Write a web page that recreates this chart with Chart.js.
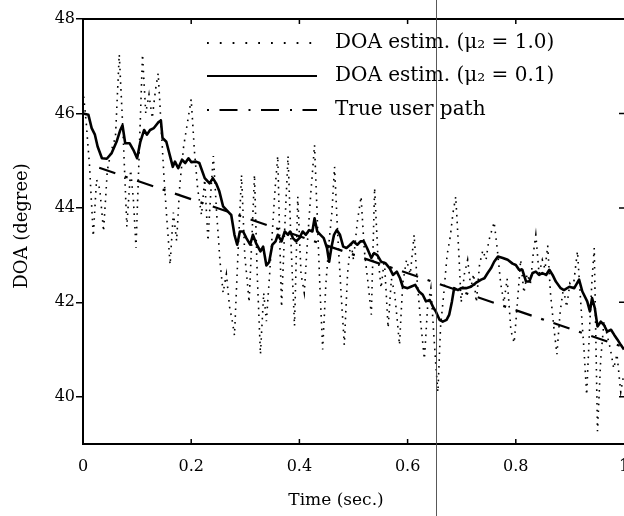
<!DOCTYPE html>
<html><head><meta charset="utf-8">
<script src="https://cdn.jsdelivr.net/npm/chart.js@4"></script>
<style>html,body{margin:0;padding:0;background:#fff}#wrap{width:624px;height:516px;position:relative}</style>
</head><body><div id="wrap"><canvas id="c" width="624" height="516"></canvas></div>
<script>
const seriesLabels = ['DOA estim. (\u03BC\u2082 = 1.0)', 'DOA estim. (\u03BC\u2082 = 0.1)', 'True user path'];
const xTitle = 'Time (sec.)';
const yTitle = 'DOA (degree)';
const xTickValues = [0, 0.2, 0.4, 0.6, 0.8, 1];
const xTickLabels = ['0', '0.2', '0.4', '0.6', '0.8', '1'];
const yTickValues = [40, 42, 44, 46, 48];
const yTickLabels = ['40', '42', '44', '46', '48'];
const scanLineT = 0.652;

const timeNoisy = [0.000,0.006,0.012,0.019,0.025,0.031,0.038,0.045,0.052,0.060,0.067,0.074,0.081,0.088,0.093,0.098,0.104,0.110,0.116,0.122,0.128,0.134,0.139,0.145,0.150,0.156,0.161,0.167,0.173,0.179,0.186,0.193,0.200,0.206,0.212,0.219,0.225,0.231,0.236,0.241,0.247,0.253,0.259,0.265,0.271,0.276,0.280,0.286,0.293,0.299,0.304,0.307,0.312,0.317,0.322,0.328,0.334,0.339,0.345,0.350,0.355,0.360,0.364,0.367,0.373,0.379,0.385,0.391,0.397,0.403,0.409,0.415,0.421,0.428,0.433,0.438,0.443,0.449,0.455,0.460,0.465,0.471,0.477,0.483,0.489,0.495,0.500,0.507,0.514,0.520,0.527,0.533,0.539,0.545,0.551,0.557,0.564,0.570,0.576,0.581,0.585,0.591,0.598,0.605,0.612,0.618,0.624,0.631,0.637,0.643,0.648,0.652,0.656,0.661,0.667,0.673,0.679,0.684,0.689,0.694,0.699,0.705,0.711,0.717,0.722,0.727,0.733,0.739,0.745,0.750,0.755,0.760,0.766,0.772,0.778,0.784,0.791,0.797,0.803,0.809,0.815,0.821,0.827,0.832,0.837,0.843,0.849,0.854,0.859,0.864,0.870,0.876,0.882,0.888,0.894,0.900,0.906,0.911,0.914,0.920,0.926,0.931,0.937,0.941,0.945,0.948,0.951,0.957,0.963,0.969,0.975,0.981,0.987,0.994,1.000];
const doaNoisy = [46.5,45.8,44.9,43.4,44.6,44.4,43.5,44.8,45.2,45.5,47.25,45.6,43.6,44.8,44.2,43.15,45.2,47.25,46.0,46.4,45.9,46.5,46.85,45.6,44.6,43.6,42.8,43.9,43.3,44.5,45.3,45.8,46.3,45.2,44.4,43.85,44.6,43.3,44.3,45.1,43.9,42.9,42.2,42.6,41.9,41.6,41.3,42.9,44.7,43.0,42.4,42.0,43.3,44.7,42.6,40.9,42.2,41.6,42.6,43.5,44.4,45.1,43.2,41.9,43.6,45.1,43.1,41.5,44.24,42.6,42.2,43.3,44.3,45.33,43.8,42.3,41.0,42.4,43.3,43.9,44.87,43.4,42.2,41.1,42.6,43.3,42.9,43.7,44.24,43.1,42.4,41.74,44.42,43.0,42.3,42.9,41.46,42.5,42.2,41.6,41.1,42.4,42.9,42.6,43.43,42.4,41.6,40.8,41.9,42.3,41.4,40.7,40.1,41.5,42.2,43.0,43.4,43.9,44.24,43.2,42.0,42.6,42.9,42.3,42.6,42.0,42.8,43.1,42.9,43.3,43.5,43.7,43.1,42.4,42.0,42.5,41.4,41.14,42.0,42.9,42.2,42.6,42.4,43.0,43.43,42.6,42.9,42.7,43.2,42.2,41.5,40.9,41.8,42.3,41.9,42.4,42.3,42.8,43.08,42.0,41.0,40.04,41.6,42.5,43.15,41.2,39.27,40.8,41.6,41.3,41.0,40.6,40.9,40.1,40.5];

const timeSmooth = [0.000,0.010,0.016,0.022,0.027,0.035,0.044,0.053,0.062,0.069,0.073,0.078,0.086,0.093,0.100,0.106,0.113,0.118,0.124,0.131,0.139,0.144,0.147,0.154,0.161,0.166,0.170,0.176,0.183,0.189,0.195,0.200,0.209,0.215,0.225,0.234,0.240,0.246,0.252,0.259,0.268,0.274,0.280,0.285,0.290,0.296,0.302,0.309,0.314,0.320,0.328,0.333,0.339,0.344,0.350,0.356,0.360,0.367,0.373,0.379,0.383,0.388,0.394,0.400,0.406,0.412,0.418,0.424,0.428,0.433,0.439,0.445,0.451,0.455,0.459,0.464,0.469,0.475,0.481,0.487,0.494,0.500,0.507,0.513,0.519,0.525,0.533,0.538,0.544,0.551,0.559,0.567,0.573,0.580,0.586,0.591,0.600,0.606,0.614,0.621,0.628,0.634,0.641,0.648,0.652,0.659,0.665,0.672,0.677,0.682,0.686,0.693,0.699,0.708,0.717,0.726,0.736,0.742,0.748,0.754,0.760,0.767,0.776,0.785,0.794,0.800,0.806,0.812,0.819,0.825,0.831,0.837,0.843,0.849,0.856,0.862,0.868,0.874,0.883,0.889,0.899,0.908,0.917,0.923,0.932,0.937,0.941,0.946,0.951,0.957,0.963,0.969,0.976,0.982,0.988,0.994,1.000];
const doaSmooth = [46.00,45.97,45.69,45.55,45.30,45.05,45.04,45.16,45.40,45.65,45.75,45.37,45.37,45.23,45.05,45.40,45.65,45.55,45.65,45.69,45.81,45.85,45.48,45.40,45.09,44.87,44.98,44.84,45.02,44.95,45.05,44.97,44.98,44.95,44.63,44.52,44.63,44.52,44.35,44.03,43.92,43.85,43.43,43.22,43.50,43.50,43.36,43.22,43.43,43.25,43.08,43.18,42.78,42.85,43.22,43.29,43.43,43.29,43.50,43.43,43.50,43.36,43.29,43.36,43.50,43.43,43.53,43.50,43.78,43.50,43.43,43.36,43.15,42.86,43.15,43.43,43.53,43.43,43.18,43.15,43.22,43.29,43.22,43.29,43.29,43.15,42.94,43.04,43.00,42.86,42.83,42.72,42.58,42.65,42.51,42.33,42.30,42.33,42.37,42.23,42.16,42.02,42.05,41.88,41.81,41.63,41.59,41.63,41.74,42.02,42.30,42.26,42.30,42.30,42.33,42.41,42.48,42.51,42.62,42.72,42.86,42.97,42.94,42.90,42.82,42.79,42.69,42.69,42.44,42.44,42.62,42.65,42.58,42.62,42.58,42.69,42.58,42.44,42.30,42.26,42.33,42.30,42.48,42.23,42.02,41.81,42.09,41.88,41.49,41.59,41.52,41.38,41.42,41.31,41.21,41.10,41.00];

const timeTrue = [0.03, 1.0];
const doaTrue = [44.85, 41.05];

const toXY = (xs, ys) => xs.map((t, i) => ({x: t, y: ys[i]}));
const FONT = "'DejaVu Serif', serif";
Chart.defaults.font.family = FONT;
Chart.defaults.color = '#000';

const legendStyles = [
  {dash: [1.8, 11], width: 1.8},
  {dash: [], width: 2},
  {dash: [2, 10.5, 18, 11], width: 2}
];

const decor = {
  id: 'decor',
  afterDraw(chart) {
    const {ctx, chartArea: a, scales: {x, y}} = chart;
    ctx.save();
    ctx.strokeStyle = '#000';
    ctx.lineWidth = 2;
    ctx.beginPath();
    ctx.moveTo(a.left - 1, a.top); ctx.lineTo(a.right + 1, a.top);
    ctx.stroke();
    ctx.lineWidth = 1.5;
    ctx.beginPath();
    xTickValues.slice(1, -1).forEach(v => {
      const px = x.getPixelForValue(v);
      ctx.moveTo(px, a.bottom); ctx.lineTo(px, a.bottom - 5);
      ctx.moveTo(px, a.top); ctx.lineTo(px, a.top + 5);
    });
    yTickValues.slice(0, -1).forEach(v => {
      const py = y.getPixelForValue(v);
      ctx.moveTo(a.right, py); ctx.lineTo(a.right - 5, py);
    });
    ctx.stroke();
    // legend
    const lx0 = 207, lx1 = 317, tx = 335, rows = [43, 76, 110];
    seriesLabels.forEach((lab, i) => {
      const st = legendStyles[i];
      ctx.save();
      ctx.setLineDash(st.dash);
      ctx.lineWidth = st.width;
      ctx.lineCap = 'butt';
      ctx.beginPath();
      ctx.moveTo(lx0, rows[i]); ctx.lineTo(lx1, rows[i]);
      ctx.stroke();
      ctx.restore();
      ctx.fillStyle = '#000';
      ctx.font = '20px ' + FONT;
      ctx.textAlign = 'left';
      ctx.textBaseline = 'middle';
      ctx.fillText(lab, tx, rows[i]);
    });
    // axis titles
    ctx.fillStyle = '#000';
    ctx.font = '17px ' + FONT;
    ctx.textAlign = 'center';
    ctx.textBaseline = 'middle';
    ctx.fillText(xTitle, 336, 501);
    ctx.save();
    ctx.translate(22, 226);
    ctx.rotate(-Math.PI / 2);
    ctx.font = '18px ' + FONT;
    ctx.fillText(yTitle, 0, 0);
    ctx.restore();
    // scanner artefact line
    const sx = Math.round(x.getPixelForValue(scanLineT)) + 0.5;
    ctx.strokeStyle = 'rgba(70,70,70,0.9)';
    ctx.lineWidth = 1;
    ctx.beginPath();
    ctx.moveTo(sx, 0); ctx.lineTo(sx, 516);
    ctx.stroke();
    ctx.restore();
  }
};

new Chart(document.getElementById('c'), {
  type: 'line',
  data: {
    datasets: [
      {label: seriesLabels[2], data: toXY(timeTrue, doaTrue), borderColor: '#000', borderWidth: 2.2, borderDash: [17, 10, 3, 10], pointRadius: 0, tension: 0, fill: false},
      {label: seriesLabels[0], data: toXY(timeNoisy, doaNoisy), borderColor: '#000', borderWidth: 1.6, borderDash: [1.6, 5.2], borderCapStyle: 'butt', pointRadius: 0, tension: 0, fill: false},
      {label: seriesLabels[1], data: toXY(timeSmooth, doaSmooth), borderColor: '#000', borderWidth: 2.6, pointRadius: 0, tension: 0, fill: false, borderJoinStyle: 'round'}
    ]
  },
  options: {
    responsive: false,
    animation: false,
    layout: {padding: {top: 19, right: 0, left: 0, bottom: 0}},
    plugins: {legend: {display: false}, tooltip: {enabled: false}},
    scales: {
      x: {
        type: 'linear', min: 0, max: 1, position: 'bottom',
        afterBuildTicks: s => { s.ticks = xTickValues.map(v => ({value: v})); },
        afterFit: s => { s.height = 72; s.paddingLeft = 0; s.paddingRight = 0; },
        ticks: {callback: (v, i) => xTickLabels[i], maxRotation: 0, autoSkip: false, padding: 13, font: {size: 16}, color: '#000'},
        grid: {drawOnChartArea: false, drawTicks: false},
        border: {display: true, width: 2, color: '#000'}
      },
      y: {
        type: 'linear', min: 39, max: 48,
        afterBuildTicks: s => { s.ticks = yTickValues.map(v => ({value: v})); },
        afterFit: s => { s.width = 83; },
        ticks: {callback: (v, i) => yTickLabels[i], padding: 1, font: {size: 16}, color: '#000'},
        grid: {drawOnChartArea: false, drawTicks: true, tickLength: 7, lineWidth: 1.5, color: '#000'},
        border: {display: true, width: 2, color: '#000'}
      }
    }
  },
  plugins: [decor]
});
</script>
</body></html>
